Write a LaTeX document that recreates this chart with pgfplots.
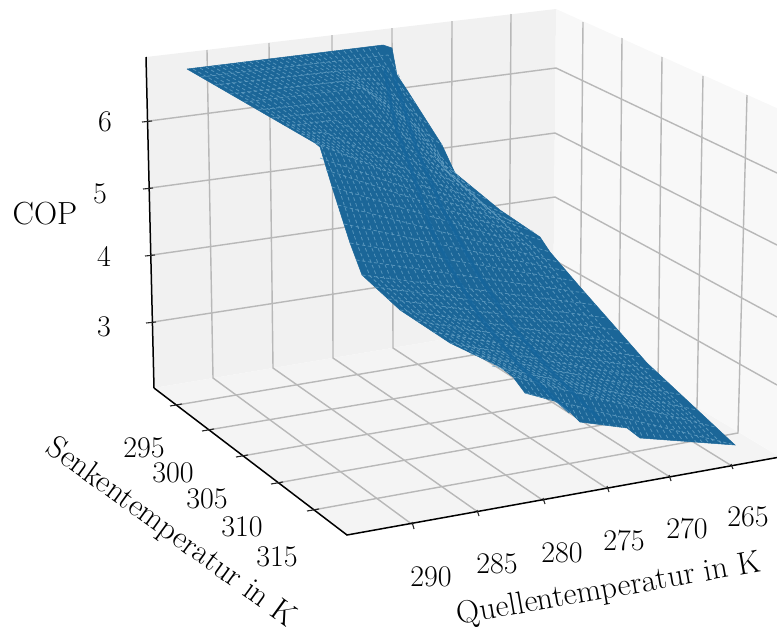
\documentclass[border=0pt]{standalone}
\usepackage{fontspec}
\usepackage{pgfplots}
\pgfplotsset{compat=1.18}
\definecolor{wallL}{HTML}{F1F1F1}
\definecolor{wallR}{HTML}{F8F8F8}
\definecolor{floorc}{HTML}{F4F4F4}
\definecolor{gridc}{HTML}{B8B8B8}
\definecolor{surfc}{HTML}{1B6698}
\definecolor{seamc}{HTML}{6AA3C6}
\definecolor{ridgec}{HTML}{15659C}
\pgfplotsset{
  gl/.style={color=gridc,line width=1.4pt,no markers,forget plot},
  ax/.style={color=black,line width=1.5pt,no markers,forget plot},
  tk/.style={color=black!85,line width=1.1pt,no markers,forget plot},
  sm/.style={color=seamc,opacity=.75,line width=.8pt,dash pattern=on 3.5pt off 2.5pt,no markers,forget plot},
  rg/.style={color=ridgec,opacity=.8,line width=3.5pt,no markers,forget plot},
}
\newcommand{\lf}{\fontsize{30}{33}\selectfont}
\newcommand{\lb}{\fontsize{32}{35}\selectfont}
\begin{document}
\begin{tikzpicture}
\begin{axis}[width=777pt,height=635pt,scale only axis,xmin=0,xmax=777,ymin=0,ymax=635,y dir=reverse,axis lines=none,enlargelimits=false,clip=true]
% panes
\addplot[fill=wallL,draw=none,forget plot] coordinates {(146,57)(556,9)(553,321)(154,388)(146,57)};
\addplot[fill=wallR,draw=none,forget plot] coordinates {(556,9)(790,114)(784,459)(553,321)(556,9)};
\addplot[fill=floorc,draw=none,forget plot] coordinates {(154,388)(553,321)(780,457)(347,535)(154,388)};
% left wall verticals and floor lines for Quellentemperatur
\addplot[gl] coordinates {(207,50)(213,378)(413,525)};
\addplot[gl] coordinates {(269,43)(273,368)(478,512)};
\addplot[gl] coordinates {(332,35)(333,358)(544,501)};
\addplot[gl] coordinates {(392,28)(393,348)(608,489)};
\addplot[gl] coordinates {(452,21)(451,338)(670,477)};
\addplot[gl] coordinates {(511,14)(509,328)(732,466)};
% right wall verticals and floor lines for Senkentemperatur
\addplot[gl] coordinates {(583,22)(580,337)(177,405)};
\addplot[gl] coordinates {(622,38)(619,361)(208,430)};
\addplot[gl] coordinates {(662,57)(658,384)(242,456)};
\addplot[gl] coordinates {(703,76)(697,408)(277,483)};
\addplot[gl] coordinates {(747,95)(738,433)(313,510)};
% COP lines
\addplot[gl] coordinates {(149,121)(556,68)(777,173)};
\addplot[gl] coordinates {(150,188)(555,133)(777,245)};
\addplot[gl] coordinates {(152,255)(555,197)(777,317)};
\addplot[gl] coordinates {(153,322)(554,260)(777,385)};
% surface
\addplot[fill=surfc,draw=surfc,line width=.5pt,forget plot] coordinates {(187,69)(383,45)(392,48)(397,75)(407,90)(442,145)(455,173)(500,210)(540,237)(550,252)(580,287)(647,363)(735,445)(640,438)(627,428)(580,422)(568,410)(558,402)(525,393)(513,377)(500,367)(450,343)(400,310)(362,275)(350,243)(333,190)(320,147)(315,143)(187,69)};
% rows
\addplot[sm] coordinates {(201,77)(388,55)(401,80)};
\addplot[sm] coordinates {(215,85)(383,66)(415,103)};
\addplot[sm] coordinates {(230,94)(372,78)(429,125)};
\addplot[sm] coordinates {(244,102)(363,88)(442,145)};
\addplot[sm] coordinates {(258,110)(354,99)(455,173)};
\addplot[sm] coordinates {(272,118)(344,110)(472,187)};
\addplot[sm] coordinates {(286,126)(335,120)(488,200)};
\addplot[sm] coordinates {(301,135)(324,132)(505,214)};
\addplot[sm] coordinates {(315,143)(522,225)};
\addplot[sm] coordinates {(320,158)(535,232)};
\addplot[sm] coordinates {(326,170)(541,240)};
\addplot[sm] coordinates {(332,187)(550,252)};
\addplot[sm] coordinates {(338,205)(558,262)};
\addplot[sm] coordinates {(344,224)(566,271)};
\addplot[sm] coordinates {(350,243)(575,281)};
\addplot[sm] coordinates {(356,260)(585,293)};
\addplot[sm] coordinates {(362,275)(596,305)};
\addplot[sm] coordinates {(375,287)(607,318)};
\addplot[sm] coordinates {(388,299)(618,330)};
\addplot[sm] coordinates {(400,310)(630,344)};
\addplot[sm] coordinates {(417,321)(642,357)};
\addplot[sm] coordinates {(433,332)(655,370)};
\addplot[sm] coordinates {(450,343)(668,382)};
\addplot[sm] coordinates {(470,354)(682,395)};
\addplot[sm] coordinates {(492,366)(697,410)};
\addplot[sm] coordinates {(513,377)(715,427)};
\addplot[sm] coordinates {(525,393)(600,412)(735,445)};
% long lines
\addplot[sm] coordinates {(193,69)(250,101)(321,145)(339,189)(357,244)(370,276)(407,311)(457,344)(519,378)(531,395)};
\addplot[sm] coordinates {(200,68)(256,101)(328,148)(346,191)(364,245)(377,277)(414,312)(464,345)(526,380)(538,397)};
\addplot[sm] coordinates {(206,67)(262,100)(334,150)(352,193)(371,246)(384,278)(421,313)(470,346)(532,381)(544,398)};
\addplot[sm] coordinates {(212,66)(269,99)(341,153)(359,195)(378,248)(391,279)(429,314)(477,348)(538,383)(551,400)};
\addplot[sm] coordinates {(218,65)(275,98)(347,155)(366,197)(385,249)(398,280)(436,315)(484,349)(544,384)(557,403)};
\addplot[sm] coordinates {(225,65)(281,98)(354,158)(373,199)(392,250)(406,281)(443,316)(491,350)(551,386)(564,407)};
\addplot[sm] coordinates {(231,64)(287,97)(360,161)(380,201)(399,251)(413,282)(450,317)(498,351)(557,388)(571,413)};
\addplot[sm] coordinates {(237,63)(294,96)(367,164)(387,203)(406,253)(421,283)(458,319)(505,353)(564,390)(578,420)};
\addplot[sm] coordinates {(243,62)(300,95)(373,166)(393,205)(413,254)(428,283)(465,320)(511,354)(570,391)(584,421)};
\addplot[sm] coordinates {(250,62)(306,95)(380,169)(400,207)(420,255)(435,284)(472,321)(518,355)(576,393)(591,423)};
\addplot[sm] coordinates {(256,61)(312,94)(386,171)(407,209)(427,256)(442,285)(479,322)(525,356)(582,394)(597,424)};
\addplot[sm] coordinates {(262,60)(318,93)(393,174)(414,211)(434,257)(450,286)(486,323)(532,358)(589,396)(604,425)};
\addplot[sm] coordinates {(268,60)(324,92)(399,176)(420,213)(441,258)(457,287)(493,324)(538,359)(595,397)(610,426)};
\addplot[sm] coordinates {(275,59)(331,92)(406,179)(427,215)(448,260)(464,288)(501,325)(545,360)(601,399)(617,427)};
\addplot[sm] coordinates {(281,58)(337,91)(412,181)(434,217)(455,261)(471,289)(508,326)(552,361)(607,400)(623,428)};
\addplot[sm] coordinates {(288,58)(343,90)(419,184)(441,220)(463,262)(479,290)(515,327)(559,363)(614,402)(630,430)};
\addplot[sm] coordinates {(294,57)(349,89)(425,186)(448,222)(470,263)(486,291)(522,328)(566,364)(620,403)(636,434)};
\addplot[sm] coordinates {(300,56)(355,89)(431,189)(455,224)(477,264)(494,292)(529,329)(573,365)(627,405)(643,438)};
\addplot[sm] coordinates {(306,55)(361,90)(437,191)(461,226)(484,265)(501,293)(536,330)(579,366)(633,406)(649,438)};
\addplot[sm] coordinates {(313,55)(368,92)(444,194)(468,228)(491,267)(508,294)(544,331)(586,367)(639,408)(656,439)};
\addplot[sm] coordinates {(319,54)(374,96)(450,196)(475,230)(498,268)(515,295)(551,332)(593,368)(645,409)(662,439)};
\addplot[sm] coordinates {(325,53)(380,100)(457,199)(482,232)(505,269)(523,296)(558,333)(600,370)(652,411)(669,440)};
\addplot[sm] coordinates {(331,52)(386,104)(463,202)(489,234)(512,270)(530,297)(565,334)(607,371)(658,413)(676,440)};
\addplot[sm] coordinates {(338,52)(393,109)(470,205)(496,236)(519,272)(538,298)(573,336)(614,372)(665,415)(683,441)};
\addplot[sm] coordinates {(344,51)(399,113)(476,207)(502,238)(526,273)(545,298)(580,337)(620,373)(671,416)(689,441)};
\addplot[sm] coordinates {(350,50)(405,118)(483,210)(509,240)(533,274)(552,299)(587,338)(627,375)(677,418)(696,442)};
\addplot[sm] coordinates {(356,49)(411,122)(489,212)(516,242)(540,275)(560,300)(594,339)(634,376)(683,419)(702,442)};
\addplot[sm] coordinates {(363,49)(417,127)(445,170)(496,215)(523,244)(547,276)(567,301)(601,340)(641,377)(690,421)(709,443)};
\addplot[sm] coordinates {(369,48)(423,131)(447,171)(490,210)(529,246)(554,277)(574,302)(608,341)(647,378)(696,422)(715,443)};
\addplot[sm] coordinates {(375,47)(430,136)(448,172)(485,207)(509,220)(536,248)(561,279)(581,303)(616,342)(654,380)(702,424)(722,444)};
% ridges
\addplot[rg] coordinates {(385,70)(390,100)(397,130)(415,180)(433,233)(455,275)(480,317)(517,363)(553,397)(570,412)};
\addplot[rg] coordinates {(392,70)(400,95)(417,150)(443,210)(477,273)(513,327)(550,370)(600,420)};
% axis lines
\addplot[ax] coordinates {(146,57)(154,388)};
\addplot[ax] coordinates {(154,388)(347,535)(780,457)};
% ticks
\addplot[tk] coordinates {(142,122)(152,121)};
\addplot[tk] coordinates {(143,189)(153,188)};
\addplot[tk] coordinates {(145,256)(155,255)};
\addplot[tk] coordinates {(146,323)(156,322)};
\addplot[tk] coordinates {(170,406)(182,404)};
\addplot[tk] coordinates {(202,431)(214,429)};
\addplot[tk] coordinates {(236,457)(248,455)};
\addplot[tk] coordinates {(271,484)(283,482)};
\addplot[tk] coordinates {(307,511)(319,509)};
\addplot[tk] coordinates {(412,522)(414,529)};
\addplot[tk] coordinates {(477,510)(479,516)};
\addplot[tk] coordinates {(543,498)(545,504)};
\addplot[tk] coordinates {(607,486)(609,492)};
\addplot[tk] coordinates {(669,475)(671,481)};
\addplot[tk] coordinates {(731,464)(733,469)};
% labels
\node[font=\lf] at (axis cs:105,122) {6};
\node[font=\lf] at (axis cs:100,194) {5};
\node[font=\lf] at (axis cs:104,256) {4};
\node[font=\lf] at (axis cs:104,327) {3};
\node[font=\lb] at (axis cs:45,214) {COP};
\node[font=\lf] at (axis cs:144,448) {295};
\node[font=\lf] at (axis cs:173,473) {300};
\node[font=\lf] at (axis cs:207,499) {305};
\node[font=\lf] at (axis cs:242,527) {310};
\node[font=\lf] at (axis cs:277,557) {315};
\node[font=\lf] at (axis cs:431,577) {290};
\node[font=\lf] at (axis cs:497,564) {285};
\node[font=\lf] at (axis cs:562,553) {280};
\node[font=\lf] at (axis cs:624,541) {275};
\node[font=\lf] at (axis cs:687,529) {270};
\node[font=\lf] at (axis cs:748,517) {265};
\node[font=\lb,rotate=-36] at (axis cs:171,533) {Senkentemperatur in K};
\node[font=\lb,rotate=10] at (axis cs:609,590) {Quellentemperatur in K};
\end{axis}
\pgfresetboundingbox
\path[use as bounding box] (0pt,0pt) rectangle (777pt,635pt);
\end{tikzpicture}
\end{document}
